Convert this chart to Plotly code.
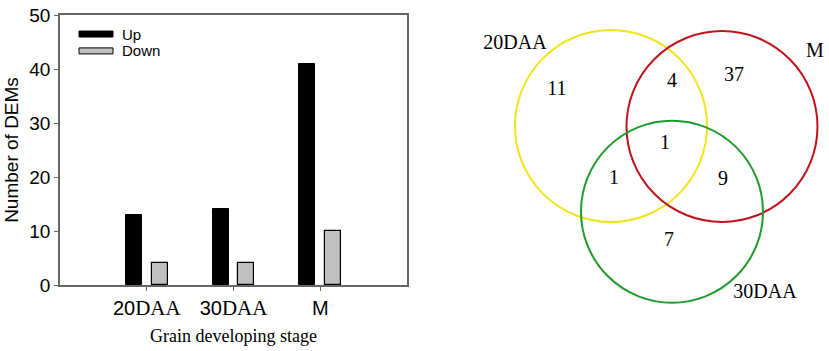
import plotly.graph_objects as go

# ---- bar chart data ----
stages = ["20DAA", "30DAA", "M"]
stage_pos = [1, 2, 3]
stage_ticktext = ["20<span style=\"font-family:'Liberation Serif',serif;font-size:21px\">DAA</span>",
                  "30<span style=\"font-family:'Liberation Serif',serif;font-size:21px\">DAA</span>",
                  "M"]
up_counts = [13, 14, 41]
down_counts = [4, 4, 10]
y_ticks = [0, 10, 20, 30, 40, 50]

# ---- venn data ----
venn_sets = ["20DAA", "M", "30DAA"]
venn_colors = ["#f2e41a", "#c1121c", "#1e9b2c"]
venn_cx = [1.965, 3.075, 2.575]
venn_cy = [1.26, 1.265, 2.117]
venn_r = [0.96, 0.955, 0.91]
venn_label_x = [1.005, 4.005, 3.505]
venn_label_y = [0.435, 0.52, 2.93]
region_counts = [11, 4, 37, 1, 1, 9, 7]
region_x = [1.425, 2.575, 3.195, 2.505, 1.995, 3.085, 2.545]
region_y = [0.90, 0.82, 0.76, 1.44, 1.79, 1.80, 2.41]

W, H = 829, 351
SANS = "Liberation Sans, Arial, sans-serif"
SERIF = "Liberation Serif, Times New Roman, serif"

fig = go.Figure()

bar_w = 0.184
fig.add_trace(go.Bar(x=stage_pos, y=up_counts, name="Up", width=bar_w, offset=-0.241,
                     marker=dict(color="black", line=dict(color="black", width=1)),
                     showlegend=False, xaxis="x", yaxis="y"))
fig.add_trace(go.Bar(x=stage_pos, y=down_counts, name="Down", width=bar_w, offset=0.0575,
                     marker=dict(color="#c0c0c0", line=dict(color="black", width=1.2)),
                     showlegend=False, xaxis="x", yaxis="y"))

# venn texts
fig.add_trace(go.Scatter(x=region_x, y=region_y, mode="text",
                         text=[str(v) for v in region_counts],
                         textfont=dict(family=SERIF, size=20, color="black"),
                         showlegend=False, xaxis="x2", yaxis="y2", hoverinfo="skip"))
fig.add_trace(go.Scatter(x=venn_label_x, y=venn_label_y, mode="text",
                         text=venn_sets,
                         textfont=dict(family=SERIF, size=20, color="black"),
                         showlegend=False, xaxis="x2", yaxis="y2", hoverinfo="skip"))

shapes = []
for cx, cy, r, c in zip(venn_cx, venn_cy, venn_r, venn_colors):
    shapes.append(dict(type="circle", xref="x2", yref="y2",
                       x0=cx - r, x1=cx + r, y0=cy - r, y1=cy + r,
                       line=dict(color=c, width=2)))

# legend (drawn manually, Up/Down)
leg = [("Up", "black", "black", 0.903), ("Down", "#c0c0c0", "black", 0.855)]
for name, fill, edge, yc in leg:
    shapes.append(dict(type="rect", xref="paper", yref="paper",
                       x0=79 / W, x1=113 / W, y0=yc - 3 / H, y1=yc + 3 / H,
                       fillcolor=fill, line=dict(color=edge, width=1)))

annotations = []
for name, fill, edge, yc in leg:
    annotations.append(dict(text=name, xref="paper", yref="paper", x=120 / W, y=yc,
                            xanchor="left", yanchor="middle", showarrow=False,
                            font=dict(family=SANS, size=15, color="black")))

axis_line = "#666666"
fig.update_layout(
    width=W, height=H,
    margin=dict(l=0, r=0, t=0, b=0),
    paper_bgcolor="white", plot_bgcolor="white",
    template="none",
    bargap=0,
    shapes=shapes,
    annotations=annotations,
    xaxis=dict(domain=[60 / W, 407 / W], range=[0, 4], tickvals=stage_pos, ticktext=stage_ticktext,
               showline=True, linecolor=axis_line, linewidth=1.5, mirror=True,
               ticks="outside", ticklen=4, tickcolor=axis_line, tickwidth=1,
               showgrid=False, zeroline=False, automargin=False,
               tickfont=dict(family=SANS, size=20, color="black"),
               title=dict(text="Grain developing stage", standoff=11,
                          font=dict(family=SERIF, size=18, color="black")),
               anchor="y", fixedrange=True),
    yaxis=dict(domain=[66 / H, 336 / H], range=[0, 50], tickvals=y_ticks,
               showline=True, linecolor=axis_line, linewidth=1.5, mirror=True,
               ticks="outside", ticklen=4, tickcolor=axis_line, tickwidth=1,
               showgrid=False, zeroline=False, automargin=False,
               tickfont=dict(family=SANS, size=19, color="black"),
               title=dict(text="Number of DEMs", standoff=6,
                          font=dict(family=SANS, size=19, color="black")),
               anchor="x", fixedrange=True),
    xaxis2=dict(domain=[0.5, 1], range=[0, 4.145], visible=False, anchor="y2", fixedrange=True),
    yaxis2=dict(domain=[0, 1], range=[3.51, 0], visible=False, anchor="x2", fixedrange=True),
)

fig.write_html("out.html", config={"displayModeBar": False},
               post_script="document.body.style.margin='0';document.body.style.overflow='hidden';")
